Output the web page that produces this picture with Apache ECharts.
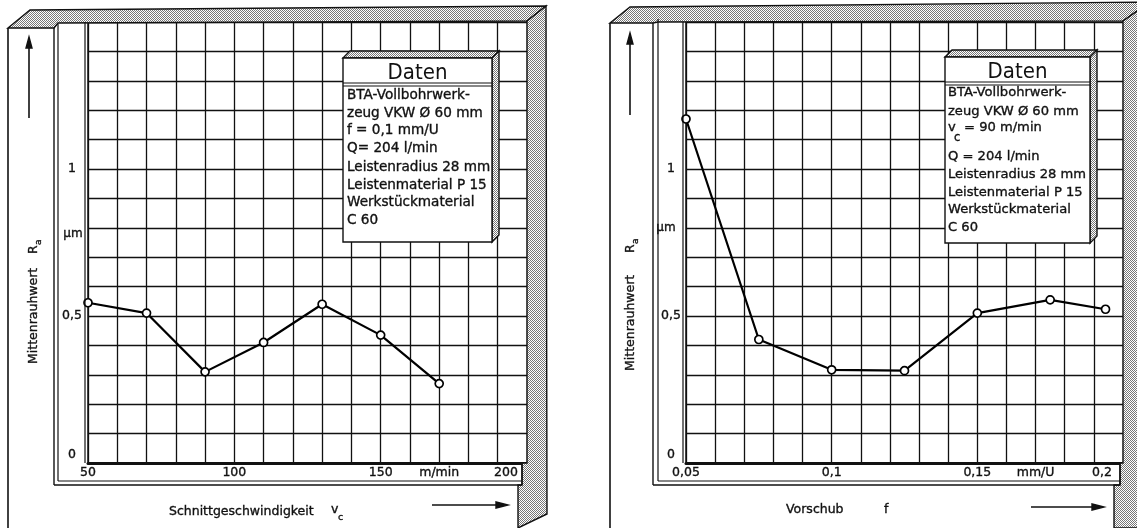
<!DOCTYPE html>
<html><head><meta charset="utf-8">
<script src="https://cdn.jsdelivr.net/npm/echarts@6/dist/echarts.min.js"></script>
<style>html,body{margin:0;padding:0;background:#fff}#c{width:1137px;height:528px}</style>
</head><body><div id="c"></div>
<script>
// ---- data ----
const vcLeft = [50, 70, 90, 110, 130, 150, 170];
const raLeft = [0.545, 0.51, 0.31, 0.41, 0.54, 0.435, 0.27];
const fRight = [0.05, 0.075, 0.1, 0.125, 0.15, 0.175, 0.194];
const raRight = [1.17, 0.42, 0.317, 0.314, 0.51, 0.555, 0.523];
const xTicksLeft = [50, 100, 150, 170, 200];
const xLabelsLeft = ['50', '100', '150', 'm/min', '200'];
const xTicksRight = [0.05, 0.1, 0.15, 0.17, 0.2];
const xLabelsRight = ['0,05', '0,1', '0,15', 'mm/U', '0,2'];
const yTicks = [0, 0.5, 1];
const yLabels = ['0', '0,5', '1'];
const yUnit = 'µm';
const yTitle = 'Mittenrauhwert';
const xTitleLeft = 'Schnittgeschwindigkeit';
const xTitleRight = 'Vorschub';
const datenTitle = 'Daten';
const datenLeft = ['BTA-Vollbohrwerk-', 'zeug VKW Ø 60 mm', 'f = 0,1 mm/U', 'Q= 204 l/min',
  'Leistenradius 28 mm', 'Leistenmaterial P 15', 'Werkstückmaterial', 'C 60'];
const datenRight = ['BTA-Vollbohrwerk-', 'zeug VKW Ø 60 mm', '= 90 m/min', 'Q = 204 l/min',
  'Leistenradius 28 mm', 'Leistenmaterial P 15', 'Werkstückmaterial', 'C 60'];

// ---- helpers ----
const FONT = 'DejaVu Sans';
const INK = '#111';
const pc = document.createElement('canvas'); pc.width = 2; pc.height = 2;
const px = pc.getContext('2d'); px.fillStyle = '#fff'; px.fillRect(0, 0, 2, 2);
px.fillStyle = '#777'; px.fillRect(0, 0, 1, 1); px.fillRect(1, 1, 1, 1);
const hatch = { image: pc, repeat: 'repeat' };

const G = [];
function ln(x1, y1, x2, y2, w, z) {
  G.push({ type: 'line', z: z || 20, shape: { x1, y1, x2, y2 }, style: { stroke: INK, lineWidth: w || 1.4 } });
}
function poly(points, fill, z) {
  G.push({ type: 'polygon', z: z || 20, shape: { points }, style: { fill: fill, stroke: INK, lineWidth: 1.4 } });
}
function rect(x, y, w, h, z) {
  G.push({ type: 'rect', z: z || 20, shape: { x, y, width: w, height: h }, style: { fill: '#fff', stroke: INK, lineWidth: 1.4 } });
}
function txt(x, y, s, o) {
  o = o || {};
  G.push({ type: 'text', z: o.z || 30, x, y, rotation: o.rot || 0,
    style: { text: s, fill: INK, stroke: INK, lineWidth: o.thin ? 0 : 0.35,
      fontSize: o.size || 12, fontFamily: o.family || FONT,
      align: o.align || 'left', textAlign: o.align || 'left',
      verticalAlign: 'middle', textVerticalAlign: 'middle' } });
}
function arrowUp(x, y0, y1) { ln(x, y0, x, y1 + 9, 1.6); poly([[x - 3, y1 + 11], [x + 3, y1 + 11], [x, y1]], INK); }
function arrowRight(y, x0, x1) { ln(x0, y, x1 - 10, y, 1.6); poly([[x1 - 12, y - 3], [x1 - 12, y + 3], [x1, y]], INK); }

function panel(P) {
  poly(P.top, hatch, 12);
  poly(P.right, hatch, 12);
  ln(P.oL, P.oT, P.oL, 528, 1.6);
  ln(P.c1, P.oT, P.c1, P.sB2, 1.4);
  ln(P.c2, P.oT - 4, P.c2, P.sB1, 1.2);
  ln(P.gL - 3, P.gT, P.gL - 3, P.gB, 1.2);
  ln(P.c1, P.sB2, P.sR, P.sB2, 1.6);
  ln(P.c2, P.sB1, P.sR, P.sB1, 1.2);
  ln(P.sR, P.gB, P.sR, P.sB2, 1.4);
  arrowUp(P.ax, P.ay0, P.ay1);
  arrowRight(P.bxY, P.bx0, P.bx1);
  txt(P.tx, P.ty, yTitle, { rot: Math.PI / 2, size: 12.5 });
  txt(P.tx, P.ty - P.tl, 'R', { rot: Math.PI / 2, size: 12.5 });
  txt(P.tx + 5, P.ty - P.tl - 9, 'a', { rot: Math.PI / 2, size: 9 });
  txt(P.ux, P.uy, yUnit, { size: 12, align: 'center' });
  const B = P.box;
  poly([[B.x, B.y], [B.x + 7, B.y - 7], [B.x + B.w + 7, B.y - 7], [B.x + B.w, B.y]], hatch, 40);
  poly([[B.x + B.w, B.y], [B.x + B.w + 7, B.y - 7], [B.x + B.w + 7, B.y + B.h - 7], [B.x + B.w, B.y + B.h]], hatch, 40);
  rect(B.x, B.y, B.w, B.h, 40);
  txt(B.x + B.w / 2, B.y + 15, datenTitle, { size: 22, align: 'center', thin: true,
    family: "'Liberation Sans Narrow', 'DejaVu Sans Condensed', sans-serif", z: 45 });
  ln(B.x, B.y + 25, B.x + B.w, B.y + 25, 1.2, 45);
  ln(B.x, B.y + 28, B.x + B.w, B.y + 28, 1.2, 45);
}

panel({
  oL: 8, oT: 28, c1: 54, c2: 58, gL: 88, gT: 22, gB: 463, sR: 522, sB1: 481, sB2: 485,
  top: [[8, 28], [30, 10], [546, 6], [527, 21], [58, 23], [54, 28]],
  right: [[527, 21], [546, 6], [547, 514], [518, 528], [518, 485], [522, 485], [522, 463], [527, 463]],
  ax: 29, ay0: 118, ay1: 37, bxY: 505, bx0: 432, bx1: 508,
  tx: 34, ty: 364, tl: 110, ux: 73, uy: 234,
  box: { x: 343, y: 58, w: 149, h: 184 }
});
panel({
  oL: 610, oT: 23, c1: 653, c2: 658, gL: 686, gT: 22, gB: 463, sR: 1120, sB1: 481, sB2: 485,
  top: [[610, 23], [630, 7], [1150, 2], [1123, 21], [658, 22], [653, 23]],
  right: [[1123, 21], [1150, 2], [1150, 528], [1114, 528], [1114, 485], [1120, 485], [1120, 463], [1123, 463]],
  ax: 630, ay0: 115, ay1: 33, bxY: 507, bx0: 1031, bx1: 1104,
  tx: 631, ty: 371, tl: 118, ux: 666, uy: 228,
  box: { x: 945, y: 57, w: 145, h: 186 }
});
const BOXFONT_L = 13.6, BOXFONT_R = 13.1;
[95, 113, 130, 148, 167, 185, 202, 220].forEach((y, i) => txt(347, y, datenLeft[i], { size: BOXFONT_L, z: 45 }));
[93, 112, 128, 157, 175, 193, 210, 228].forEach((y, i) => {
  if (i === 2) {
    txt(948, y, 'v', { size: BOXFONT_R, z: 45 });
    txt(954, y + 10, 'c', { size: 11.5, z: 45 });
    txt(964, y, datenRight[i], { size: BOXFONT_R, z: 45 });
  } else txt(948, y, datenRight[i], { size: BOXFONT_R, z: 45 });
});
txt(169, 512, xTitleLeft, { size: 12.5 });
txt(331, 510, 'v', { size: 12.5 });
txt(338, 518, 'c', { size: 9.5 });
txt(786, 510, xTitleRight, { size: 12.5 });
txt(884, 510, 'f', { size: 12.5 });

// ---- axes ----
function fmtX(ticks, labels) {
  return function (v) {
    for (let i = 0; i < ticks.length; i++) {
      if (Math.abs(v - ticks[i]) < 1e-6 * Math.max(1, Math.abs(ticks[i]))) {
        return i === ticks.length - 1 ? '{last|' + labels[i] + '}' : labels[i];
      }
    }
    return '';
  };
}
function fmtY(v) {
  for (let i = 0; i < yTicks.length; i++) {
    if (Math.abs(v - yTicks[i]) < 1e-6) return i === 0 ? '{zero|' + yLabels[i] + '}' : yLabels[i];
  }
  return '';
}
const lblStyle = { fontFamily: FONT, fontSize: 12.5, color: INK, textBorderColor: INK, textBorderWidth: 0.35 };
function xAxis(idx, min, max, interval, ticks, labels) {
  return {
    type: 'value', gridIndex: idx, min, max, interval,
    axisLine: { show: true, onZero: false, lineStyle: { color: INK, width: 3 } },
    axisTick: { show: false },
    splitLine: { show: true, lineStyle: { color: '#111', width: 1.3 } },
    axisLabel: Object.assign({ show: true, margin: 3, showMinLabel: true, showMaxLabel: true,
      formatter: fmtX(ticks, labels),
      rich: { last: Object.assign({ padding: [0, 42, 0, 0] }, lblStyle) } }, lblStyle)
  };
}
function yAxis(idx, margin) {
  return {
    type: 'value', gridIndex: idx, min: 0, max: 1.5, interval: 0.1,
    axisLine: { show: true, lineStyle: { color: INK, width: 1.5 } },
    axisTick: { show: false },
    splitLine: { show: true, lineStyle: { color: '#111', width: 1.3 } },
    axisLabel: Object.assign({ show: true, margin, align: 'center', showMinLabel: true, showMaxLabel: true,
      formatter: fmtY,
      rich: { zero: Object.assign({ padding: [0, 0, 16, 0] }, lblStyle) } }, lblStyle)
  };
}
function series(idx, xs, ys) {
  return {
    type: 'line', xAxisIndex: idx, yAxisIndex: idx, z: 5, clip: false,
    data: xs.map((x, i) => [x, ys[i]]),
    symbol: 'circle', symbolSize: 8,
    lineStyle: { color: '#000', width: 2.2 },
    itemStyle: { color: '#fff', borderColor: '#000', borderWidth: 1.7 }
  };
}

const chart = echarts.init(document.getElementById('c'), null, { renderer: 'canvas' });
chart.setOption({
  animation: false,
  backgroundColor: '#fff',
  grid: [
    { left: 88, top: 22, width: 439, height: 441, containLabel: false, outerBoundsMode: 'none' },
    { left: 686, top: 22, width: 437, height: 441, containLabel: false, outerBoundsMode: 'none' }
  ],
  xAxis: [
    xAxis(0, 50, 200, 10, xTicksLeft, xLabelsLeft),
    xAxis(1, 0.05, 0.2, 0.01, xTicksRight, xLabelsRight)
  ],
  yAxis: [yAxis(0, 16), yAxis(1, 15)],
  series: [series(0, vcLeft, raLeft), series(1, fRight, raRight)],
  graphic: { elements: G }
});
</script>
</body></html>
